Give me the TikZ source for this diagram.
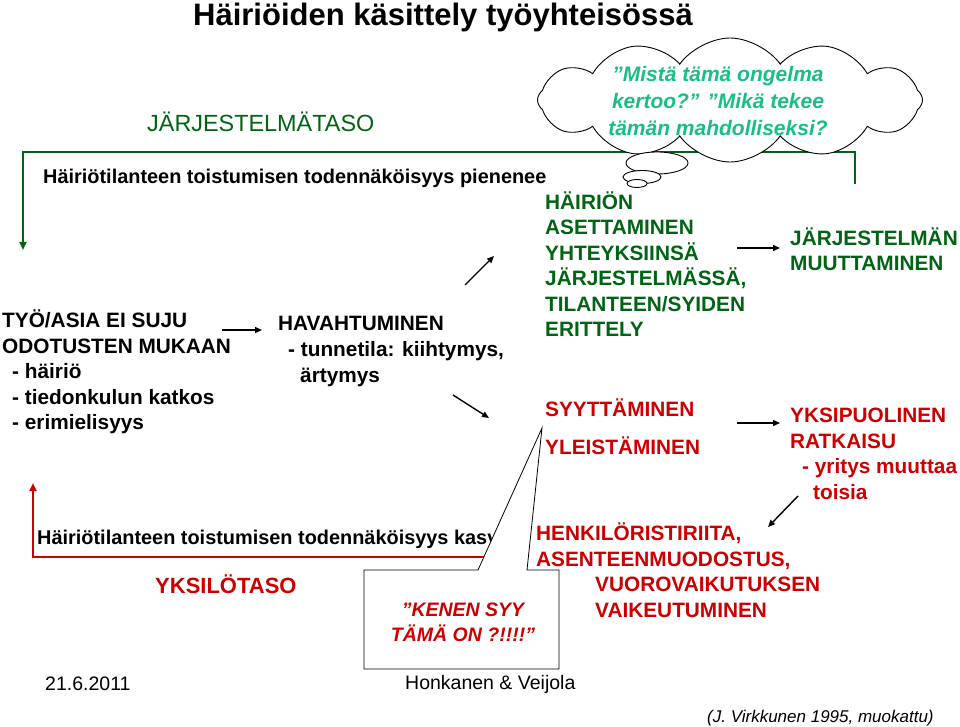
\documentclass[tikz,border=0pt]{standalone}
\usepackage{fontspec}
\setmainfont{Liberation Sans}
\usetikzlibrary{arrows.meta,shapes.symbols}
\definecolor{dgreen}{RGB}{0,100,20}
\definecolor{dred}{RGB}{204,0,0}
\definecolor{cloudtxt}{RGB}{25,190,135}
\tikzset{
  txt/.style={font=\bfseries\fontsize{20.8}{25.5}\selectfont, align=left, inner sep=0pt, anchor=base west},
  plain/.style={font=\fontsize{19.5}{24}\selectfont, inner sep=0pt, anchor=base west},
  arr/.style={-{Triangle[length=7pt,width=6pt]}, line width=1.4pt},
  loopline/.style={-{Triangle[length=8pt,width=7pt]}, line width=2.6pt},
}
\begin{document}
\begin{tikzpicture}[x=1pt,y=-1pt]
    \useasboundingbox (0,0) rectangle (960,727);
    %% titles
    \node[txt, font=\bfseries\fontsize{31}{36}\selectfont] (title) at (193,26) {Häiriöiden käsittely työyhteisössä};
    \node[plain, font=\fontsize{23.4}{28}\selectfont, text=dgreen] (jtaso) at (147,132) {JÄRJESTELMÄTASO};
    \node[txt, font=\bfseries\fontsize{22}{26}\selectfont, text=dred] (ytaso) at (155,593) {YKSILÖTASO};

    %% loops
    \coordinate (gs) at (855,184);
    \coordinate (ge) at (23,250);
    \coordinate (rs) at (492,557);
    \coordinate (re) at (33,483);
    \draw [loopline, draw=dgreen] (gs) -- ++(0,-32) -| (ge);
    \draw [loopline, draw=dred] (rs) -| (re);
    \node[txt, font=\bfseries\fontsize{19.9}{24}\selectfont] (pien) at (43,184) {Häiriötilanteen toistumisen todennäköisyys pienenee};
    \node[txt, font=\bfseries\fontsize{19.9}{24}\selectfont] (kasv) at (37,544) {Häiriötilanteen toistumisen todennäköisyys kasv};

    %% blocks
    \node[txt] (tyo) at (2,429.5) {TYÖ/ASIA EI SUJU\\ODOTUSTEN MUKAAN\\\hspace*{10pt}- häiriö\\\hspace*{10pt}- tiedonkulun katkos\\\hspace*{10pt}- erimielisyys};
    \node[txt, font=\bfseries\fontsize{20.8}{26}\selectfont] (hav) at (278,382.5) {HAVAHTUMINEN\\\hspace*{10pt}- tunnetila: kiihtymys,\\\hspace*{22pt}ärtymys};
    \node[txt, text=dgreen] (aset) at (545,336.5) {HÄIRIÖN\\ASETTAMINEN\\YHTEYKSIINSÄ\\JÄRJESTELMÄSSÄ,\\TILANTEEN/SYIDEN\\ERITTELY};
    \node[txt, text=dgreen] (muut) at (790,270.5) {JÄRJESTELMÄN\\MUUTTAMINEN};
    \node[txt, text=dred] (syyt) at (545,416.5) {SYYTTÄMINEN};
    \node[txt, text=dred] (yleis) at (545,454.5) {YLEISTÄMINEN};
    \node[txt, text=dred] (yksi) at (790,499) {YKSIPUOLINEN\\RATKAISU\\\hspace*{12pt}- yritys muuttaa\\\hspace*{23pt}toisia};
    \node[txt, font=\bfseries\fontsize{20.8}{25.7}\selectfont, text=dred] (henk) at (536,617.5) {HENKILÖRISTIRIITA,\\ASENTEENMUODOSTUS,\\\hspace*{59pt}VUOROVAIKUTUKSEN\\\hspace*{59pt}VAIKEUTUMINEN};

    %% arrows
    \coordinate (a1s) at (222,330);   \coordinate (a1e) at (262,330);
    \coordinate (a2s) at (465,285);   \coordinate (a2e) at (494,256);
    \coordinate (a3s) at (453,395);   \coordinate (a3e) at (489,418);
    \coordinate (a4s) at (737,248);   \coordinate (a4e) at (780,248);
    \coordinate (a5s) at (737,423);   \coordinate (a5e) at (780,423);
    \coordinate (a6s) at (798,496);   \coordinate (a6e) at (768,527);
    \draw [arr] (a1s) -- (a1e);
    \draw [arr] (a2s) -- (a2e);
    \draw [arr] (a3s) -- (a3e);
    \draw [arr] (a4s) -- (a4e);
    \draw [arr] (a5s) -- (a5e);
    \draw [arr] (a6s) -- (a6e);

    %% thought cloud
    \node[cloud, cloud puffs=12, cloud puff arc=110, aspect=3.1, draw, fill=white, line width=0.9pt,
          minimum width=385pt, minimum height=124pt, inner sep=0pt] (cloud) at (730,100) {};
    \node[font=\bfseries\itshape\fontsize{21}{27}\selectfont, text=cloudtxt, align=center, inner sep=0pt]
          (cloudq) at (718,101) {”Mistä tämä ongelma\\kertoo?” ”Mikä tekee\\tämän mahdolliseksi?};
    \draw [fill=white, line width=0.9pt] (657,163) ellipse (31pt and 11pt);
    \draw [fill=white, line width=0.9pt] (642,177) ellipse (19pt and 6.5pt);
    \draw [fill=white, line width=0.9pt] (637,183.5) ellipse (10pt and 4pt);

    %% callout
    \coordinate (ctip) at (542,428);
    \draw [fill=white, line width=0.8pt] (364,570) -- (478,570) -- (ctip) -- (527,570) -- (559,570) -- (559,669) -- (364,669) -- cycle;
    \node[font=\bfseries\itshape\fontsize{19.5}{25}\selectfont, text=dred, align=center, inner sep=0pt]
          (syy) at (463,622) {”KENEN SYY\\TÄMÄ ON ?!!!!”};

    %% footer
    \node[plain] (date) at (45,690) {21.6.2011};
    \node[plain] (auth) at (405,689) {Honkanen \& Veijola};
    \node[plain, font=\itshape\fontsize{17}{20}\selectfont] (src) at (707,722) {(J. Virkkunen 1995, muokattu)};
\end{tikzpicture}
\end{document}
